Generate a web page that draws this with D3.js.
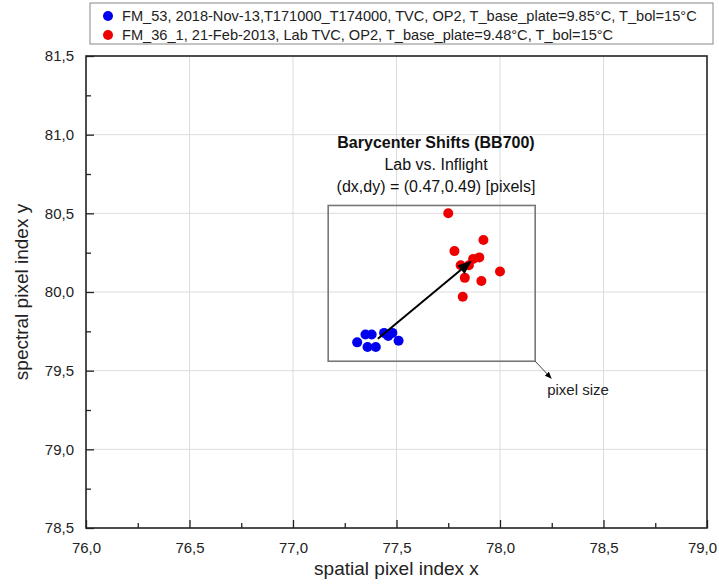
<!DOCTYPE html>
<html>
<head>
<meta charset="utf-8">
<script src="https://cdn.jsdelivr.net/npm/d3@7"></script>
<style>
body { margin: 0; background: #fff; }
svg { font-family: "Liberation Sans", Arial, sans-serif; }
</style>
</head>
<body>
<svg id="chart" width="719" height="584"></svg>
<script>
// series
const labData = {
	x: [77.75, 77.92, 77.78, 77.90, 77.87, 77.85, 77.81, 78.00, 77.83, 77.91, 77.82],
	y: [80.50, 80.33, 80.26, 80.22, 80.21, 80.17, 80.17, 80.13, 80.09, 80.07, 79.97]
};
const flightData = {
	x: [77.31, 77.35, 77.38, 77.36, 77.40, 77.44, 77.46, 77.48, 77.51],
	y: [79.68, 79.73, 79.73, 79.65, 79.65, 79.74, 79.72, 79.74, 79.69]
};
const legendLabels = [
	"FM_53, 2018-Nov-13,T171000_T174000, TVC, OP2, T_base_plate=9.85°C, T_bol=15°C",
	"FM_36_1, 21-Feb-2013, Lab TVC, OP2, T_base_plate=9.48°C, T_bol=15°C"
];
const xTicks = [76.0, 76.5, 77.0, 77.5, 78.0, 78.5, 79.0];
const yTicks = [78.5, 79.0, 79.5, 80.0, 80.5, 81.0, 81.5];
const pixelBox = [77.17, 79.56, 78.17, 80.55]; // x0, y0, x1, y1
const noteLines = ["Barycenter Shifts (BB700)", "Lab vs. Inflight", "(dx,dy) = (0.47,0.49) [pixels]"];

const svg = d3.select("#chart");
const mLeft = 86, mRight = 707, mTop = 56, mBottom = 528;

const x = d3.scaleLinear().domain([76, 79]).range([mLeft, mRight]);
const y = d3.scaleLinear().domain([78.5, 81.5]).range([mBottom, mTop]);
const fmt = v => d3.format(".1f")(v).replace(".", ",");

svg.append("defs").append("marker")
	.attr("id", "head")
	.attr("viewBox", "0 0 10 10")
	.attr("refX", 9).attr("refY", 5)
	.attr("markerWidth", 7).attr("markerHeight", 7)
	.attr("orient", "auto")
	.append("path").attr("d", "M0,1 L10,5 L0,9 Z").attr("fill", "#000");

// grid
svg.append("g").selectAll("line").data(xTicks.slice(1, -1)).enter().append("line")
	.attr("x1", d => x(d)).attr("x2", d => x(d)).attr("y1", mTop).attr("y2", mBottom)
	.attr("stroke", "#dcdcdc").attr("stroke-width", 1);
svg.append("g").selectAll("line").data(yTicks.slice(1, -1)).enter().append("line")
	.attr("y1", d => y(d)).attr("y2", d => y(d)).attr("x1", mLeft).attr("x2", mRight)
	.attr("stroke", "#dcdcdc").attr("stroke-width", 1);

// axes, ticks pointing inward
let xAxis = svg.append("g").attr("transform", `translate(0,${mBottom})`)
	.call(d3.axisBottom(x).tickValues(xTicks).tickSizeInner(-8).tickSizeOuter(0).tickFormat(fmt).tickPadding(14));
let xMinor = svg.append("g").attr("transform", `translate(0,${mBottom})`)
	.call(d3.axisBottom(x).tickValues(d3.range(76.25, 79, 0.5)).tickSizeInner(-5).tickSizeOuter(0).tickFormat(""));
let yAxis = svg.append("g").attr("transform", `translate(${mLeft},0)`)
	.call(d3.axisLeft(y).tickValues(yTicks).tickSizeInner(-8).tickSizeOuter(0).tickFormat(fmt).tickPadding(12));
let yMinor = svg.append("g").attr("transform", `translate(${mLeft},0)`)
	.call(d3.axisLeft(y).tickValues(d3.range(78.75, 81.5, 0.5)).tickSizeInner(-5).tickSizeOuter(0).tickFormat(""));
[xAxis, xMinor, yAxis, yMinor].forEach(g => {
	g.select(".domain").remove();
	g.selectAll("line").attr("stroke", "#222").attr("stroke-width", 1.3);
	g.selectAll("text").attr("font-size", 15).attr("fill", "#222").attr("font-family", "Liberation Sans, Arial, sans-serif");
});
// last x label sits a little left so it stays inside the window
xAxis.selectAll(".tick text").filter(d => d == 79).attr("dx", -5);

// frame
svg.append("rect").attr("x", mLeft).attr("y", mTop).attr("width", mRight - mLeft).attr("height", mBottom - mTop)
	.attr("fill", "none").attr("stroke", "#222").attr("stroke-width", 1.6);

svg.append("text").attr("x", (mLeft + mRight) / 2).attr("y", 575).attr("text-anchor", "middle")
	.attr("font-size", 19).attr("fill", "#222").text("spatial pixel index x");
svg.append("text").attr("transform", `translate(28,${(mTop + mBottom) / 2}) rotate(-90)`).attr("text-anchor", "middle")
	.attr("font-size", 19).attr("fill", "#222").text("spectral pixel index y");

// pixel-size box
svg.append("rect")
	.attr("x", x(pixelBox[0])).attr("y", y(pixelBox[3]))
	.attr("width", x(pixelBox[2]) - x(pixelBox[0])).attr("height", y(pixelBox[1]) - y(pixelBox[3]))
	.attr("fill", "none").attr("stroke", "#777").attr("stroke-width", 1.6);
svg.append("line")
	.attr("x1", x(pixelBox[2])).attr("y1", y(pixelBox[1]))
	.attr("x2", x(pixelBox[2]) + 16).attr("y2", y(pixelBox[1]) + 17)
	.attr("stroke", "#444").attr("stroke-width", 1).attr("marker-end", "url(#head)");
svg.append("text").attr("x", x(pixelBox[2]) + 12).attr("y", y(pixelBox[1]) + 34)
	.attr("font-size", 15).attr("fill", "#222").text("pixel size");

// annotation
svg.append("g").selectAll("text").data(noteLines).enter().append("text")
	.attr("x", 436).attr("y", (d, i) => 148 + i * 22)
	.attr("text-anchor", "middle").attr("font-size", 16).attr("fill", "#111")
	.attr("font-weight", (d, i) => i == 0 ? "bold" : "normal")
	.text(d => d);

// points
const toPts = s => s.x.map((v, i) => [v, s.y[i]]);
svg.append("g").selectAll("circle").data(toPts(flightData)).enter().append("circle")
	.attr("cx", d => x(d[0])).attr("cy", d => y(d[1])).attr("r", 5).attr("fill", "#0000ee");
svg.append("g").selectAll("circle").data(toPts(labData)).enter().append("circle")
	.attr("cx", d => x(d[0])).attr("cy", d => y(d[1])).attr("r", 5).attr("fill", "#ee0000");

// barycenter shift arrow
const fx = d3.mean(flightData.x), fy = d3.mean(flightData.y);
const lx = d3.mean(labData.x), ly = d3.mean(labData.y);
svg.append("line")
	.attr("x1", x(fx)).attr("y1", y(fy)).attr("x2", x(lx)).attr("y2", y(ly))
	.attr("stroke", "#000").attr("stroke-width", 2).attr("marker-end", "url(#head)");

// legend
let lg = svg.append("g");
lg.append("rect").attr("x", 90).attr("y", 3).attr("width", 623).attr("height", 41)
	.attr("fill", "#fff").attr("stroke", "#888").attr("stroke-width", 1);
lg.selectAll("circle").data(legendLabels).enter().append("circle")
	.attr("cx", 108).attr("cy", (d, i) => 16 + i * 19).attr("r", 5)
	.attr("fill", (d, i) => i == 0 ? "#0000ee" : "#ee0000");
lg.selectAll("text").data(legendLabels).enter().append("text")
	.attr("x", 122).attr("y", (d, i) => 21 + i * 19)
	.attr("font-size", 14.6).attr("fill", "#222").text(d => d);
</script>
</body>
</html>
